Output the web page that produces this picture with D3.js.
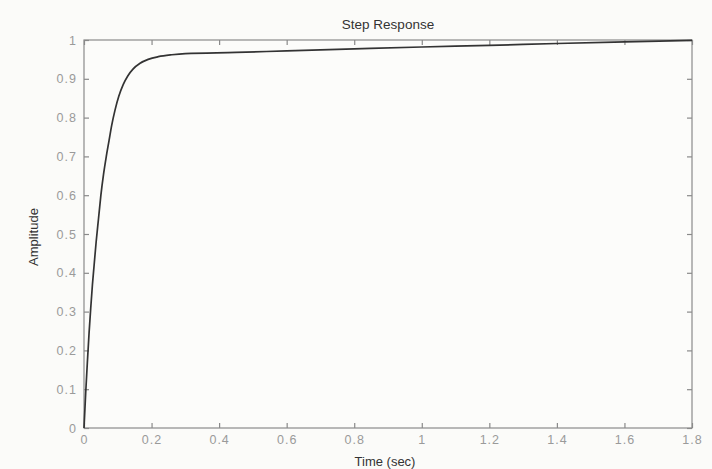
<!DOCTYPE html>
<html><head><meta charset="utf-8">
<script src="https://cdn.jsdelivr.net/npm/d3@7"></script>
<style>
html,body{margin:0;padding:0;background:#fbfbf9;}
svg{display:block;font-family:"Liberation Sans",Arial,sans-serif;}
</style></head>
<body><svg id="c" width="712" height="469"></svg>
<script>
// Data
const timeSec   = [0, 0.005, 0.01, 0.015, 0.02, 0.025, 0.03, 0.036, 0.043, 0.05, 0.058, 0.066, 0.074, 0.082, 0.092, 0.103, 0.116, 0.13, 0.145, 0.166, 0.19, 0.22, 0.26, 0.3, 0.45, 0.6, 0.8, 1.0, 1.2, 1.4, 1.6, 1.8];
const amplitude = [0, 0.09, 0.17, 0.245, 0.31, 0.37, 0.42, 0.48, 0.54, 0.6, 0.655, 0.7, 0.74, 0.78, 0.82, 0.855, 0.885, 0.908, 0.925, 0.94, 0.95, 0.957, 0.962, 0.965, 0.968, 0.972, 0.977, 0.982, 0.986, 0.991, 0.995, 0.999];
const xTicks = [0, 0.2, 0.4, 0.6, 0.8, 1, 1.2, 1.4, 1.6, 1.8];
const yTicks = [0, 0.1, 0.2, 0.3, 0.4, 0.5, 0.6, 0.7, 0.8, 0.9, 1];
const titleText = "Step Response";
const xLabel = "Time (sec)";
const yLabel = "Amplitude";

const L = 84, R = 692, T = 40, B = 428;
const svg = d3.select("#c");
const x = d3.scaleLinear().domain([0, 1.8]).range([L, R]);
const y = d3.scaleLinear().domain([0, 1]).range([B, T]);
const axisColor = "#8a8a8a", labColor = "#9a9a9a";

svg.append("rect").attr("x", L).attr("y", T).attr("width", R - L).attr("height", B - T)
  .attr("fill", "#fcfcfa").attr("stroke", axisColor).attr("stroke-width", 1.2);

const tl = 5;
function styleAxis(g, noText) {
  g.select(".domain").remove();
  g.selectAll(".tick line").attr("stroke", axisColor).attr("stroke-width", 1.2);
  g.selectAll(".tick text").attr("fill", labColor).style("font-size", "12.5px").style("letter-spacing", "1px");
  if (noText) g.selectAll(".tick text").remove();
}
const fmt = d => String(+d.toFixed(1));
svg.append("g").attr("transform", `translate(0,${B})`)
  .call(d3.axisBottom(x).tickValues(xTicks).tickFormat(fmt).tickSizeInner(-tl).tickPadding(7))
  .call(g => styleAxis(g));
svg.append("g").attr("transform", `translate(0,${T})`)
  .call(d3.axisTop(x).tickValues(xTicks).tickSizeInner(-tl))
  .call(g => styleAxis(g, true));
svg.append("g").attr("transform", `translate(${L},0)`)
  .call(d3.axisLeft(y).tickValues(yTicks).tickFormat(fmt).tickSizeInner(-tl).tickPadding(7))
  .call(g => styleAxis(g));
svg.append("g").attr("transform", `translate(${R},0)`)
  .call(d3.axisRight(y).tickValues(yTicks).tickSizeInner(-tl))
  .call(g => styleAxis(g, true));

const pts = timeSec.map((t, i) => [t, amplitude[i]]);
svg.append("path").datum(pts)
  .attr("fill", "none").attr("stroke", "#333").attr("stroke-width", 1.7)
  .attr("d", d3.line().x(d => x(d[0])).y(d => y(d[1])).curve(d3.curveMonotoneX));

svg.append("text").attr("x", (L + R) / 2).attr("y", 29).attr("text-anchor", "middle")
  .attr("fill", "#333").style("font-size", "13.5px").text(titleText);
svg.append("text").attr("x", 385).attr("y", 466).attr("text-anchor", "middle")
  .attr("fill", "#333").style("font-size", "13px").text(xLabel);
svg.append("text").attr("transform", `translate(38,${(T + B) / 2 + 3}) rotate(-90)`).attr("text-anchor", "middle")
  .attr("fill", "#333").style("font-size", "13px").text(yLabel);
</script></body></html>
